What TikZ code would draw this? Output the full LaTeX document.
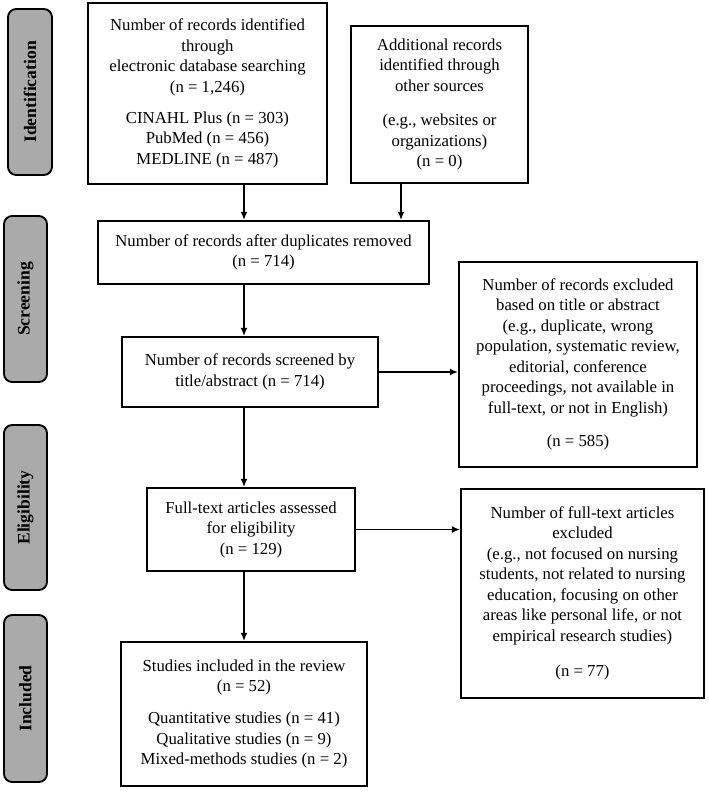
\documentclass[tikz,border=0pt]{standalone}
\usepackage{fontspec}
\setmainfont{Liberation Serif}
\usetikzlibrary{arrows.meta}
\definecolor{phasegray}{RGB}{170,170,170}
\tikzset{
  box/.style={draw, line width=1.6pt, align=center, inner sep=2pt,
    font=\fontsize{14.3}{17.5}\selectfont},
  phase/.style={draw, line width=1.6pt, rounded corners=7pt, fill=phasegray,
    rotate=90, font=\fontsize{15}{17}\selectfont\bfseries},
  arr/.style={line width=1.4pt, -{Latex[length=7pt,width=6pt]}}
}
\begin{document}
\begin{tikzpicture}[x=0.03cm, y=-0.03cm]
		%%%%% START %%%%%
		\useasboundingbox (0,0) rectangle (709,792);
		
		% phase labels
		\node[phase, minimum width=4.98cm, minimum height=1.32cm] (ident) at (30,92) {Identification};
		\node[phase, minimum width=4.98cm, minimum height=1.29cm] (screen) at (25.5,299) {Screening};
		\node[phase, minimum width=4.95cm, minimum height=1.29cm] (elig) at (25.5,507.5) {Eligibility};
		\node[phase, minimum width=5.01cm, minimum height=1.29cm] (incl) at (25.5,698.5) {Included};
		
		% boxes
		\node[box, minimum width=7.17cm, minimum height=5.43cm] (db) at (207.5,93.5)
			{Number of records identified\\through\\electronic database searching\\(n = 1,246)\\[9pt]
			 CINAHL Plus (n = 303)\\PubMed (n = 456)\\MEDLINE (n = 487)};
		\node[box, minimum width=5.31cm, minimum height=4.71cm] (other) at (439.5,104.5)
			{Additional records\\identified through\\other sources\\[12pt]
			 (e.g., websites or\\organizations)\\(n = 0)};
		\node[box, minimum width=9.93cm, minimum height=1.89cm] (dedup) at (263.5,252.5)
			{Number of records after duplicates removed\\(n = 714)};
		\node[box, minimum width=7.68cm, minimum height=2.1cm] (screened) at (250,372)
			{Number of records screened by\\title/abstract (n = 714)};
		\node[box, minimum width=7.14cm, minimum height=6.15cm] (excl) at (578,364.5)
			{Number of records excluded\\based on title or abstract\\(e.g., duplicate, wrong\\population, systematic review,\\editorial, conference\\proceedings, not available in\\full-text, or not in English)\\[11pt]
			 (n = 585)};
		\node[box, minimum width=6.24cm, minimum height=2.49cm] (full) at (251,529.5)
			{Full-text articles assessed\\for eligibility\\(n = 129)};
		\node[box, minimum width=7.29cm, minimum height=6.27cm] (fullexcl) at (582.5,593.5)
			{Number of full-text articles\\excluded\\(e.g., not focused on nursing\\students, not related to nursing\\education, focusing on other\\areas like personal life, or not\\empirical research studies)\\[13pt]
			 (n = 77)};
		\node[box, minimum width=7.38cm, minimum height=4.32cm] (incl box) at (244,714)
			{Studies included in the review\\(n = 52)\\[10pt]
			 Quantitative studies (n = 41)\\Qualitative studies (n = 9)\\Mixed-methods studies (n = 2)};
		
		% arrows
		\coordinate (otherx) at (401,0);
		\draw[arr] (db.south -| incl box) -- (dedup.north -| incl box);
		\draw[arr] (other.south -| otherx) -- (dedup.north -| otherx);
		\draw[arr] (dedup.south -| incl box) -- (screened.north -| incl box);
		\draw[arr] (screened.east) -- (screened.east -| excl.west);
		\draw[arr] (screened.south -| incl box) -- (full.north -| incl box);
		\draw[arr] (full.east) -- (full.east -| fullexcl.west);
		\draw[arr] (full.south -| incl box) -- (incl box.north);
		
		%%%%% END %%%%%
	\end{tikzpicture}
\end{document}
